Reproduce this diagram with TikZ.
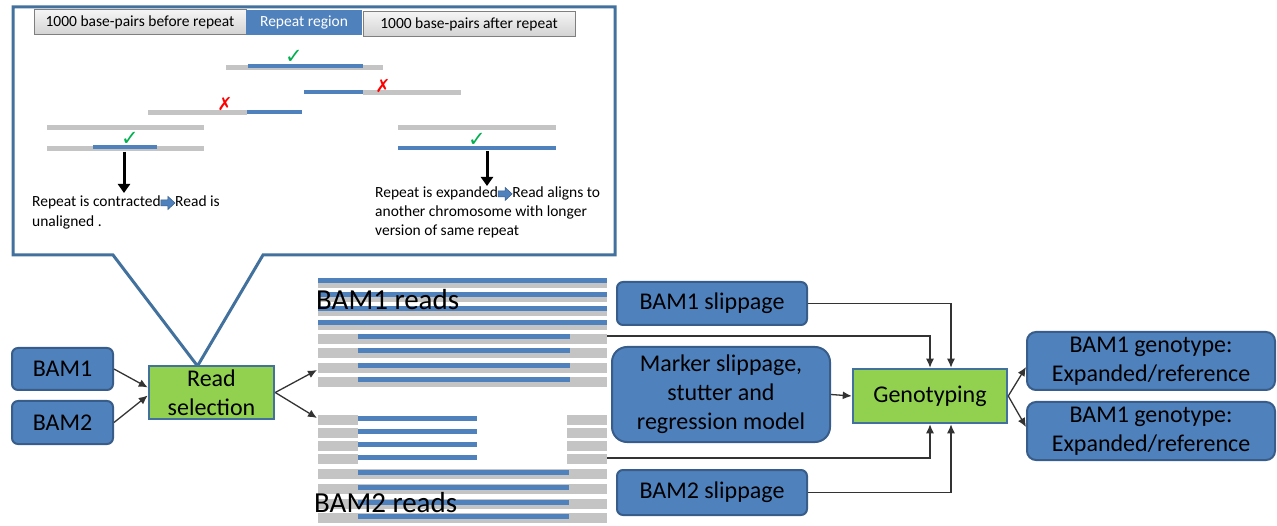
\documentclass[tikz,border=0pt]{standalone}
\usepackage{fontspec}
\setmainfont{Carlito}
\newfontfamily\dejavu{DejaVu Sans}
\usetikzlibrary{arrows.meta,calc}
\definecolor{boxblue}{HTML}{4F81BD}
\definecolor{boxedge}{HTML}{385D8A}
\definecolor{calloutedge}{HTML}{41719C}
\definecolor{selgreen}{HTML}{92D050}
\definecolor{readgrey}{HTML}{C4C4C4}
\definecolor{tickgreen}{HTML}{00B050}
\definecolor{hdrgrey}{HTML}{7F7F7F}
\newcommand\bxfont{\fontsize{24}{29}\selectfont}
\newcommand\smfont{\fontsize{15.5}{20}\selectfont}
\tikzset{
  bluebox/.style={draw=boxedge, line width=2pt, fill=boxblue, rounded corners=6pt,
    font=\bxfont, text=black, align=center, inner sep=0pt},
  greenbox/.style={draw=calloutedge, line width=2.5pt, fill=selgreen,
    font=\bxfont, text=black, align=center, inner sep=0pt},
  conn/.style={draw=black!80, line width=1.3pt, -{Latex[length=9pt,width=8pt]}},
  downarrow/.style={draw=black, line width=3pt, -{Triangle[length=9pt,width=12pt]}},
  rgrey/.style={draw=readgrey, line width=5pt},
  rblue/.style={draw=boxblue, line width=4pt},
  bgrey/.style={draw=readgrey, line width=10pt},
  bblue/.style={draw=boxblue, line width=5pt},
  hdr/.style={draw=hdrgrey, line width=1pt, top color=gray!8, bottom color=gray!35,
    font=\smfont, inner sep=0pt, minimum height=25pt},
  okmark/.style={font=\dejavu\fontsize{21}{21}\selectfont, text=tickgreen, inner sep=0pt},
  badmark/.style={font=\dejavu\fontsize{18}{18}\selectfont, text=red, inner sep=0pt},
  note/.style={font=\smfont, align=left, inner sep=0pt, anchor=north west},
  readslabel/.style={font=\fontsize{29}{30}\selectfont, inner sep=0pt, anchor=west}
}
\newcommand\bluearrow{\tikz[x=1pt,y=1pt,baseline=-4pt]\filldraw[fill=boxblue,draw=boxedge,line width=0.5pt]
  (0,-3) -- (7,-3) -- (7,-6.5) -- (14,0) -- (7,6.5) -- (7,3) -- (0,3) -- cycle;}
\begin{document}
\begin{tikzpicture}[x=1pt,y=-1pt]
\useasboundingbox (0,0) rectangle (1277,526);

% callout
\coordinate (tip) at (197.5,366);
\draw[draw=calloutedge, line width=3pt, fill=white, line join=miter]
  (13,7) -- (615,7) -- (615,255) -- (263,255) -- (tip) -- (113,255) -- (13,255) -- cycle;
\node[greenbox, minimum width=125pt, minimum height=53pt] (rs) at (211.5,392.5) {Read\\[0pt]selection};

% header
\node[hdr, minimum width=212pt] (h1) at (140,22.5) {1000 base-pairs before repeat};
\node[fill=boxblue, text=white, font=\smfont, inner sep=0pt, minimum width=116pt, minimum height=25pt] (h2) at (304,22.5) {Repeat region};
\node[hdr, minimum width=212pt] (h3) at (469,24) {1000 base-pairs after repeat};

% callout reads
\draw[rgrey] (226,68) -- (383,68);
\draw[rblue] (248,66) -- (363,66);
\draw[rblue] (304,92) -- (363,92);
\draw[rgrey] (363,93) -- (461,93);
\draw[rgrey] (148,113) -- (247,113);
\draw[rblue] (247,112) -- (302,112);
\draw[rgrey] (47,128) -- (204,128);
\draw[rgrey] (47,149) -- (204,149);
\draw[rblue] (93,147.5) -- (157,147.5);
\draw[rgrey] (398,128) -- (556,128);
\draw[rblue] (398,148) -- (556,148);

\node[okmark] (ok1) at (294,57) {✓};
\node[badmark] (x1) at (383,86) {✗};
\node[badmark] (x2) at (225,104) {✗};
\node[okmark] (ok2) at (130,139) {✓};
\node[okmark] (ok3) at (477,140) {✓};

\coordinate (c1a) at (124,152);
\coordinate (c1b) at (124,193);
\coordinate (c2a) at (487,151);
\coordinate (c2b) at (487,186);
\draw[downarrow] (c1a) -- (c1b);
\draw[downarrow] (c2a) -- (c2b);

\node[note] (n1) at (32,196) {Repeat is contracted\bluearrow Read is\\unaligned .};
\node[note] (n2) at (375,187) {Repeat is expanded\bluearrow Read aligns to\\[-1pt]another chromosome with longer\\[-1pt]version of same repeat};

% reads block BAM1
\foreach \y in {281,295,309,323} {
  \draw[bgrey] (318,\y+2) -- (607,\y+2);
  \draw[bblue] (318,\y) -- (607,\y);
}
\foreach \y in {337,351,366,380} {
  \draw[bgrey] (318,\y+2) -- (607,\y+2);
  \draw[bblue] (358,\y) -- (570,\y);
}
% reads block BAM2
\foreach \y in {418,431,444,457} {
  \draw[bgrey] (318,\y+2) -- (358,\y+2);
  \draw[bgrey] (567,\y+2) -- (607,\y+2);
  \draw[bblue] (358,\y) -- (477,\y);
}
\foreach \y in {472,487,502,516} {
  \draw[bgrey] (318,\y+2) -- (607,\y+2);
  \draw[bblue] (358,\y) -- (569,\y);
}
\node[readslabel] (l1) at (316,300) {BAM1 reads};
\node[readslabel] (l2) at (314,503) {BAM2 reads};

% boxes
\node[bluebox, minimum width=101pt, minimum height=42pt] (bam1) at (62.5,369) {BAM1};
\node[bluebox, minimum width=101pt, minimum height=43pt] (bam2) at (62.5,422.5) {BAM2};
\node[bluebox, minimum width=190pt, minimum height=43pt] (s1) at (712,303.5) {BAM1 slippage};
\node[bluebox, rounded corners=15pt, minimum width=218pt, minimum height=95pt] (mk) at (721,394.5) {Marker slippage,\\stutter and\\regression model};
\node[bluebox, minimum width=190pt, minimum height=45pt] (s2) at (712,492.5) {BAM2 slippage};
\node[greenbox, minimum width=154pt, minimum height=54pt] (gt) at (930,396) {Genotyping};
\node[bluebox, rounded corners=9pt, minimum width=248pt, minimum height=58pt] (g1) at (1151,361) {BAM1 genotype:\\Expanded/reference};
\node[bluebox, rounded corners=9pt, minimum width=248pt, minimum height=58pt] (g2) at (1151,431) {BAM1 genotype:\\Expanded/reference};

% connectors
\coordinate (r1in) at (317,370);
\coordinate (r2in) at (317,418);
\coordinate (r1out) at (607,336);
\coordinate (r2out) at (607,458);
\draw[conn] (bam1.east) -- ([yshift=5pt]rs.west);
\draw[conn] (bam2.east) -- ([yshift=-3pt]rs.west);
\draw[conn] (rs.east) -- (r1in);
\draw[conn] (rs.east) -- (r2in);
\draw[conn] (r1out) -| (gt.north);
\draw[conn] (s1.east) -| ([xshift=21pt]gt.north);
\draw[conn] (mk.east) -- (gt.west);
\draw[conn] (r2out) -| (gt.south);
\draw[conn] (s2.east) -| ([xshift=21pt]gt.south);
\draw[conn] (gt.east) -- ([yshift=-6pt]g1.west);
\draw[conn] (gt.east) -- ([yshift=4pt]g2.west);
\end{tikzpicture}
\end{document}
